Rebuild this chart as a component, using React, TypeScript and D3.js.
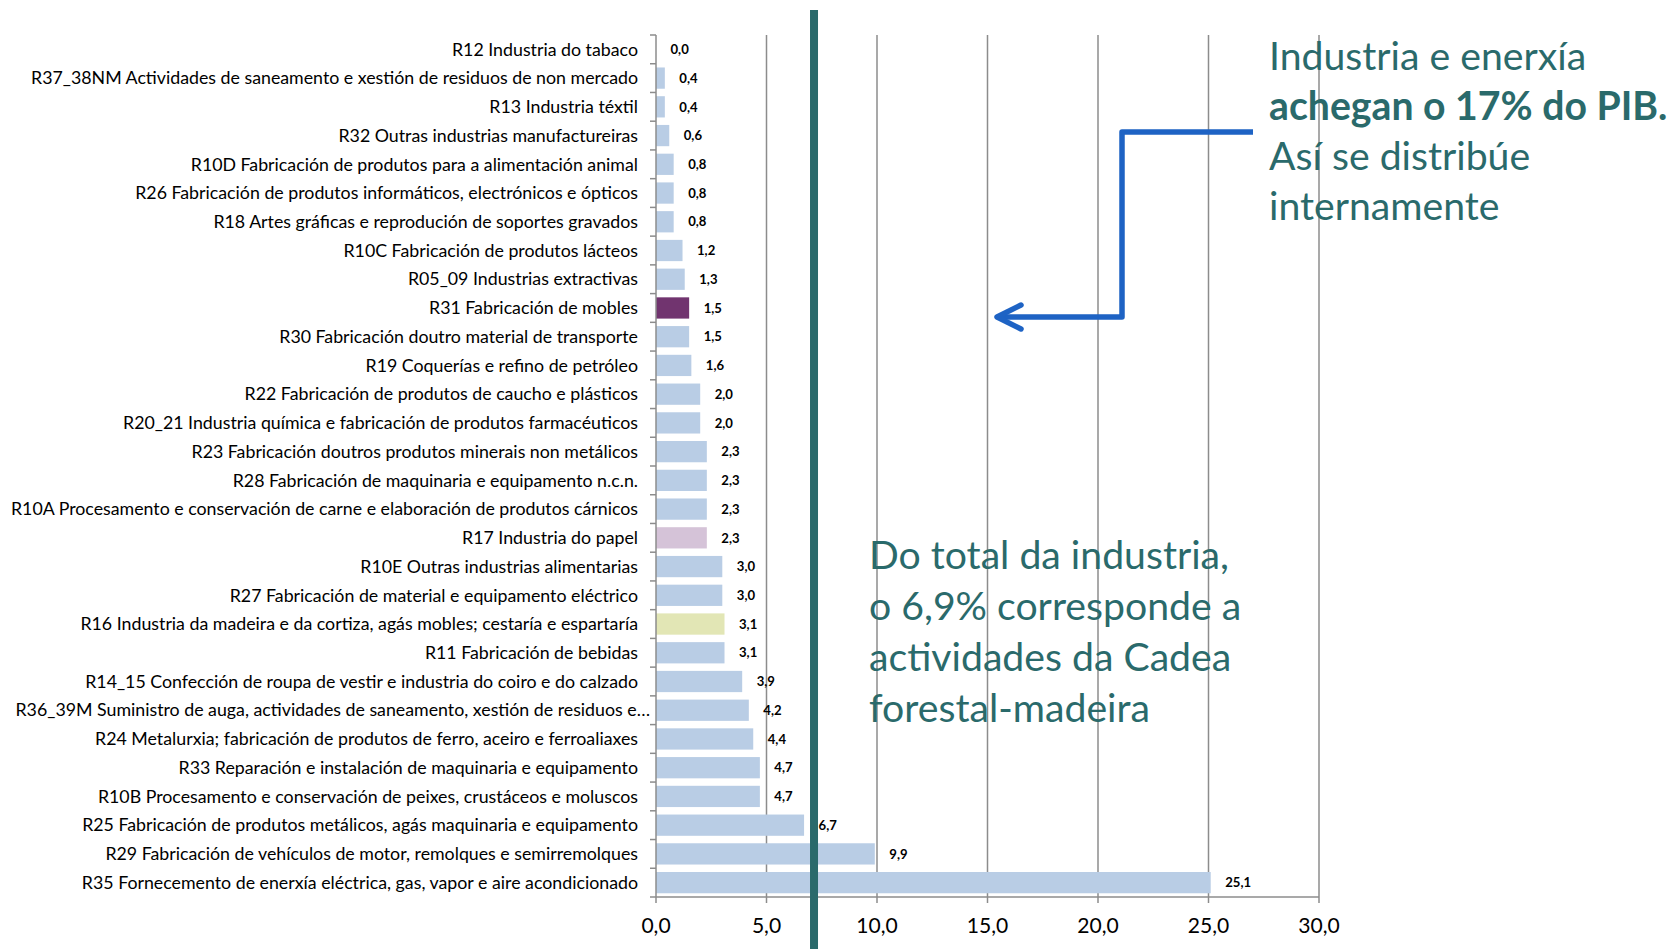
import React, { useMemo } from "react";
import * as d3 from "d3";

// ---- data (top to bottom) ----
const categories: string[] = [
  "R12 Industria do tabaco",
  "R37_38NM Actividades de saneamento e xestión de residuos de non mercado",
  "R13 Industria téxtil",
  "R32 Outras industrias manufactureiras",
  "R10D Fabricación de produtos para a alimentación animal",
  "R26 Fabricación de produtos informáticos, electrónicos e ópticos",
  "R18 Artes gráficas e reprodución de soportes gravados",
  "R10C Fabricación de produtos lácteos",
  "R05_09 Industrias extractivas",
  "R31 Fabricación de mobles",
  "R30 Fabricación doutro material de transporte",
  "R19 Coquerías e refino de petróleo",
  "R22 Fabricación de produtos de caucho e plásticos",
  "R20_21 Industria química e fabricación de produtos farmacéuticos",
  "R23 Fabricación doutros produtos minerais non metálicos",
  "R28 Fabricación de maquinaria e equipamento n.c.n.",
  "R10A Procesamento e conservación de carne e elaboración de produtos cárnicos",
  "R17 Industria do papel",
  "R10E Outras industrias alimentarias",
  "R27 Fabricación de material e equipamento eléctrico",
  "R16 Industria da madeira e da cortiza, agás mobles; cestaría e espartaría",
  "R11 Fabricación de bebidas",
  "R14_15 Confección de roupa de vestir e industria do coiro e do calzado",
  "R36_39M Suministro de auga, actividades de saneamento, xestión de residuos e…",
  "R24 Metalurxia; fabricación de produtos de ferro, aceiro e ferroaliaxes",
  "R33 Reparación e instalación de maquinaria e equipamento",
  "R10B Procesamento e conservación de peixes, crustáceos e moluscos",
  "R25 Fabricación de produtos metálicos, agás maquinaria e equipamento",
  "R29 Fabricación de vehículos de motor, remolques e semirremolques",
  "R35 Fornecemento de enerxía eléctrica, gas, vapor e aire acondicionado",
];

const values: number[] = [
  0.0, 0.4, 0.4, 0.6, 0.8, 0.8, 0.8, 1.2, 1.3, 1.5, 1.5, 1.6, 2.0, 2.0, 2.3,
  2.3, 2.3, 2.3, 3.0, 3.0, 3.1, 3.1, 3.9, 4.2, 4.4, 4.7, 4.7, 6.7, 9.9, 25.1,
];

const xTicks: number[] = [0, 5, 10, 15, 20, 25, 30];
const xDomain: [number, number] = [0, 30];
const forestShareMarker = 7.15;

const annotationTop: { text: string; bold: boolean }[] = [
  { text: "Industria e enerxía", bold: false },
  { text: "achegan o 17% do PIB.", bold: true },
  { text: "Así se distribúe", bold: false },
  { text: "internamente", bold: false },
];
const annotationBottom: string[] = [
  "Do total da industria,",
  "o 6,9% corresponde a",
  "actividades da Cadea",
  "forestal-madeira",
];

// ---- styles ----
const highlightColors: Record<string, string> = {
  "R31 Fabricación de mobles": "#71346F",
  "R17 Industria do papel": "#D5C3D8",
  "R16 Industria da madeira e da cortiza, agás mobles; cestaría e espartaría": "#E2E6B5",
};
const baseBar = "#B9CDE5";
const teal = "#2A6A6B";
const gridColor = "#8C8C8C";
const arrowBlue = "#1E63C4";
const FONT = "Lato";

function fitSize(text: string, weight: string, target: number): number {
  const ctx = document.createElement("canvas").getContext("2d")!;
  ctx.font = `${weight} 100px ${FONT}`;
  const w = ctx.measureText(text).width;
  return (100 * target) / w;
}

const fmt = (v: number) => v.toFixed(1).replace(".", ",");

export default function App() {
  const W = 1668;
  const H = 949;
  const left = 656;
  const right = 1319;
  const top = 35;
  const bottom = 897;

  const x = d3.scaleLinear().domain(xDomain).range([left, right]);
  const y = d3
    .scaleBand<string>()
    .domain(categories)
    .range([top, bottom])
    .paddingInner(0.26)
    .paddingOuter(0.13);

  const sizes = useMemo(
    () => ({
      cat: fitSize(
        "R10A Procesamento e conservación de carne e elaboración de produtos cárnicos",
        "normal",
        628
      ),
      val: fitSize("3,0", "bold", 18.3),
      tick: fitSize("10,0", "normal", 41.5),
      ann: fitSize("Do total da industria,", "normal", 360),
    }),
    []
  );

  const step = y.step();

  return (
    <svg
      width={W}
      height={H}
      style={{ position: "absolute", left: 0, top: 0, display: "block" }}
      fontFamily={FONT}
    >
      <rect x={0} y={0} width={W} height={H} fill="#ffffff" />
      {/* gridlines */}
      {xTicks
        .filter((t) => t > 0)
        .map((t) => (
          <line
            key={"g" + t}
            x1={x(t)}
            x2={x(t)}
            y1={top}
            y2={bottom}
            stroke={gridColor}
            strokeWidth={1.5}
          />
        ))}
      {/* bars */}
      {categories.map((c, i) => (
        <rect
          key={"b" + i}
          x={x(0)}
          y={y(c)!}
          width={Math.max(0, x(values[i]) - x(0))}
          height={y.bandwidth()}
          fill={highlightColors[c] ?? baseBar}
        />
      ))}
      {/* value labels */}
      {categories.map((c, i) => (
        <text
          key={"v" + i}
          x={x(values[i]) + 14.5}
          y={y(c)! + y.bandwidth() / 2}
          dy="0.36em"
          fontSize={sizes.val}
          fontWeight="bold"
          fill="#000"
        >
          {fmt(values[i])}
        </text>
      ))}
      {/* y axis */}
      <line x1={left} x2={left} y1={top} y2={bottom} stroke={gridColor} strokeWidth={1.5} />
      {d3.range(categories.length + 1).map((k) => (
        <line
          key={"yt" + k}
          x1={left - 6}
          x2={left}
          y1={top + k * step}
          y2={top + k * step}
          stroke={gridColor}
          strokeWidth={1.5}
        />
      ))}
      {/* category labels */}
      {categories.map((c) => (
        <text
          key={"c" + c}
          x={c.endsWith("…") ? left - 6 : left - 18}
          y={y(c)! + y.bandwidth() / 2}
          dy="0.35em"
          textAnchor="end"
          fontSize={sizes.cat}
          fill="#000"
        >
          {c}
        </text>
      ))}
      {/* x axis */}
      <line x1={left} x2={right} y1={bottom} y2={bottom} stroke={gridColor} strokeWidth={1.5} />
      {xTicks.map((t) => (
        <g key={"xt" + t}>
          <line x1={x(t)} x2={x(t)} y1={bottom} y2={bottom + 6} stroke={gridColor} strokeWidth={1.5} />
          <text
            x={x(t)}
            y={933}
            textAnchor="middle"
            fontSize={sizes.tick}
            fill="#000"
          >
            {fmt(t)}
          </text>
        </g>
      ))}
      {/* forest share marker line */}
      <line
        x1={x(forestShareMarker)}
        x2={x(forestShareMarker)}
        y1={10}
        y2={H}
        stroke={teal}
        strokeWidth={8}
      />
      {/* arrow */}
      <path
        d="M1253,132 H1122 V317 H998"
        fill="none"
        stroke={arrowBlue}
        strokeWidth={5.5}
        strokeLinejoin="round"
      />
      <path
        d="M1021,305 L997,317 L1021,329"
        fill="none"
        stroke={arrowBlue}
        strokeWidth={5.5}
        strokeLinecap="round"
        strokeLinejoin="round"
      />
      {/* annotations */}
      <text x={1269} y={70} fontSize={sizes.ann} fill={teal}>
        {annotationTop.map((l, i) => (
          <tspan key={i} x={1269} y={70 + i * 50} fontWeight={l.bold ? "bold" : "normal"}>
            {l.text}
          </tspan>
        ))}
      </text>
      <text x={869} y={569} fontSize={sizes.ann} fill={teal}>
        {annotationBottom.map((l, i) => (
          <tspan key={i} x={869} y={569 + i * 51}>
            {l}
          </tspan>
        ))}
      </text>
    </svg>
  );
}
